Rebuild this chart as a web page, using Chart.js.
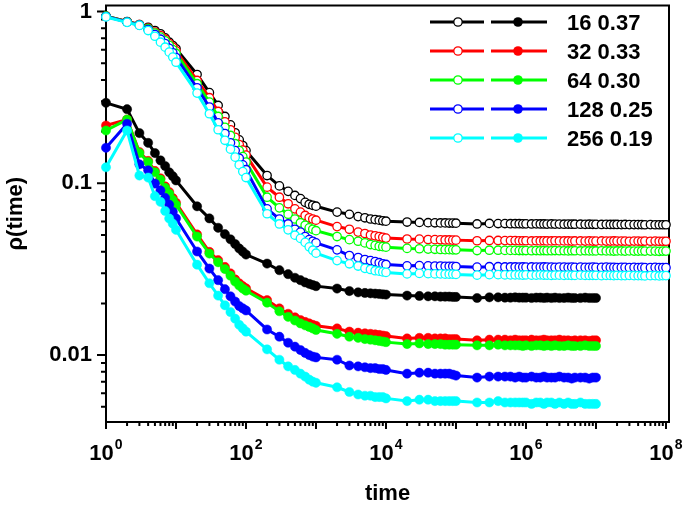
<!DOCTYPE html>
<html>
<head>
<meta charset="utf-8">
<script src="https://cdn.jsdelivr.net/npm/chart.js@4"></script>
<style>
  html, body { margin: 0; padding: 0; background: #fff; }
  canvas { display: block; }
</style>
</head>
<body>
<canvas id="rhoChart" width="685" height="505"></canvas>
<script>
// rho(time) decay for several lattice sizes, log-log

const FONT = '"Liberation Sans", Arial, sans-serif';

const sizes = ['16', '32', '64', '128', '256'];
const exponents = ['0.37', '0.33', '0.30', '0.25', '0.19'];
const colors = ['#000000', '#ff0000', '#00ff00', '#0000ff', '#00ffff'];

const xTickExps = [0, 2, 4, 6, 8];
const yTickVals = [1, 0.1, 0.01];
const yTickLabels = ['1', '0.1', '0.01'];

// sampling times (open series run to 1e8, filled ones stop at 1e7)
const times = [
    1, 2, 3, 4, 5, 6, 7, 8, 9,
    10, 20, 30, 40, 50, 60, 70, 80, 90,
    100, 200, 300, 400, 500, 600, 700, 800, 900,
    1e3, 2e3, 3e3, 4e3, 5e3, 6e3, 7e3, 8e3, 9e3,
    1e4, 2e4, 3e4, 4e4, 5e4, 6e4, 7e4, 8e4, 9e4,
    1e5, 2e5, 3e5, 4e5, 5e5, 6e5, 7e5, 8e5, 9e5,
    1e6, 1.2e6, 1.4e6, 1.6e6, 1.8e6, 2e6, 2.3e6, 2.6e6, 3e6, 3.5e6, 4e6, 4.5e6, 5e6, 6e6, 7e6, 8e6, 9e6,
    1e7, 1.2e7, 1.4e7, 1.6e7, 1.8e7, 2e7, 2.3e7, 2.6e7, 3e7, 3.5e7, 4e7, 4.5e7, 5e7, 6e7, 7e7, 8e7, 9e7,
    1e8
];
const filledCount = 72; // up to t = 1e7

// open circles (upper curves)
const open16 = [
    0.94, 0.875, 0.84, 0.81, 0.775, 0.742, 0.703, 0.663, 0.634,
    0.607, 0.43, 0.337, 0.284, 0.245, 0.219, 0.197, 0.179, 0.166,
    0.155, 0.111, 0.0966, 0.0898, 0.085, 0.0815, 0.0775, 0.0755, 0.0745,
    0.0736, 0.068, 0.066, 0.064, 0.063, 0.062, 0.0615, 0.061, 0.0605,
    0.0602, 0.0595, 0.0592, 0.059, 0.0589, 0.0588, 0.0588, 0.0587, 0.0587,
    0.0586, 0.058, 0.0584, 0.0583, 0.0583, 0.0582, 0.0582, 0.0582, 0.0581,
    0.0581, 0.058, 0.0581, 0.058, 0.058, 0.0579, 0.058, 0.0579, 0.0579, 0.0578, 0.0579, 0.0578, 0.0578, 0.0578, 0.0577, 0.0578, 0.0577,
    0.0577, 0.0576, 0.0577, 0.0576, 0.0576, 0.0576, 0.0575, 0.0576, 0.0575, 0.0575, 0.0575, 0.0575, 0.0574, 0.0575, 0.0574, 0.0574, 0.0574,
    0.0574
];
const open32 = [
    0.94, 0.872, 0.838, 0.80, 0.76, 0.725, 0.69, 0.65, 0.62,
    0.59, 0.397, 0.315, 0.262, 0.228, 0.205, 0.185, 0.168, 0.156,
    0.146, 0.095, 0.083, 0.076, 0.071, 0.068, 0.065, 0.063, 0.062,
    0.061, 0.056, 0.054, 0.052, 0.051, 0.050, 0.0495, 0.049, 0.0485,
    0.048, 0.0474, 0.0473, 0.0471, 0.047, 0.0469, 0.0468, 0.0468, 0.0467,
    0.0467, 0.0463, 0.0465, 0.0465, 0.0464, 0.0464, 0.0464, 0.0463, 0.0463,
    0.0463, 0.0462, 0.0463, 0.0462, 0.0463, 0.0462, 0.0462, 0.0463, 0.0462, 0.0462, 0.0462, 0.0461, 0.0462, 0.0462, 0.0461, 0.0462, 0.0461,
    0.0461, 0.0462, 0.0461, 0.0461, 0.0462, 0.0461, 0.0461, 0.0461, 0.046, 0.0461, 0.0461, 0.046, 0.0461, 0.046, 0.0461, 0.046, 0.046,
    0.046
];
const open64 = [
    0.94, 0.87, 0.836, 0.795, 0.75, 0.71, 0.675, 0.635, 0.60,
    0.57, 0.38, 0.297, 0.245, 0.212, 0.19, 0.17, 0.155, 0.143,
    0.133, 0.083, 0.072, 0.066, 0.062, 0.059, 0.057, 0.055, 0.054,
    0.053, 0.049, 0.047, 0.046, 0.045, 0.044, 0.0435, 0.043, 0.0428,
    0.0425, 0.0418, 0.0416, 0.0414, 0.0413, 0.0412, 0.0411, 0.0411, 0.041,
    0.041, 0.0406, 0.0408, 0.0408, 0.0407, 0.0407, 0.0407, 0.0406, 0.0406,
    0.0406, 0.0405, 0.0406, 0.0405, 0.0406, 0.0405, 0.0405, 0.0406, 0.0405, 0.0405, 0.0404, 0.0405, 0.0405, 0.0404, 0.0405, 0.0404, 0.0404,
    0.0404, 0.0405, 0.0404, 0.0404, 0.0403, 0.0404, 0.0404, 0.0403, 0.0404, 0.0403, 0.0403, 0.0404, 0.0403, 0.0403, 0.0403, 0.0402, 0.0403,
    0.0403
];
const open128 = [
    0.935, 0.868, 0.834, 0.785, 0.735, 0.69, 0.65, 0.61, 0.575,
    0.54, 0.36, 0.278, 0.225, 0.195, 0.172, 0.155, 0.14, 0.128,
    0.12, 0.071, 0.062, 0.058, 0.054, 0.052, 0.049, 0.047, 0.046,
    0.045, 0.041, 0.038, 0.037, 0.036, 0.0355, 0.035, 0.0345, 0.034,
    0.0337, 0.0331, 0.0332, 0.0331, 0.033, 0.033, 0.0329, 0.0329, 0.0329,
    0.0328, 0.0325, 0.0327, 0.0327, 0.0326, 0.0326, 0.0326, 0.0325, 0.0326,
    0.0325, 0.0326, 0.0325, 0.0325, 0.0326, 0.0325, 0.0325, 0.0324, 0.0325, 0.0325, 0.0324, 0.0325, 0.0324, 0.0325, 0.0324, 0.0324, 0.0325,
    0.0324, 0.0324, 0.0325, 0.0324, 0.0324, 0.0323, 0.0324, 0.0324, 0.0323, 0.0324, 0.0323, 0.0324, 0.0323, 0.0323, 0.0324, 0.0323, 0.0323,
    0.0323
];
const open256 = [
    0.93, 0.865, 0.83, 0.775, 0.718, 0.663, 0.62, 0.58, 0.543,
    0.507, 0.335, 0.254, 0.205, 0.178, 0.158, 0.142, 0.128, 0.117,
    0.108, 0.0665, 0.058, 0.0536, 0.0499, 0.0478, 0.0453, 0.0427, 0.0408,
    0.0392, 0.0355, 0.034, 0.033, 0.032, 0.0315, 0.031, 0.0308, 0.0305,
    0.0303, 0.0297, 0.0299, 0.0298, 0.0297, 0.0297, 0.0296, 0.0296, 0.0296,
    0.0295, 0.0292, 0.0294, 0.0294, 0.0293, 0.0293, 0.0293, 0.0293, 0.0292,
    0.0293, 0.0292, 0.0292, 0.0293, 0.0292, 0.0292, 0.0291, 0.0292, 0.0292, 0.0291, 0.0292, 0.0291, 0.0291, 0.0292, 0.0291, 0.0291, 0.0291,
    0.0291, 0.029, 0.0291, 0.0291, 0.029, 0.0291, 0.029, 0.029, 0.0291, 0.029, 0.029, 0.029, 0.0289, 0.029, 0.029, 0.0289, 0.029,
    0.029
];

// filled circles (lower curves)
const filled16 = [
    0.294, 0.27, 0.196, 0.172, 0.150, 0.136, 0.126, 0.116, 0.110,
    0.104, 0.0735, 0.0625, 0.0551, 0.0506, 0.0472, 0.0443, 0.0418, 0.040,
    0.0385, 0.0341, 0.0312, 0.0296, 0.0282, 0.0273, 0.0265, 0.026, 0.0256,
    0.0252, 0.0244, 0.0236, 0.0232, 0.023, 0.0229, 0.0228, 0.0227, 0.0226,
    0.0225, 0.0222, 0.0221, 0.022, 0.022, 0.0219, 0.0219, 0.0219, 0.0218,
    0.0218, 0.0215, 0.0217, 0.0217, 0.0216, 0.0216, 0.0217, 0.0216, 0.0216,
    0.0216, 0.0215, 0.0216, 0.0216, 0.0215, 0.0216, 0.0215, 0.0216, 0.0215, 0.0215, 0.0216, 0.0215, 0.0215, 0.0215, 0.0216, 0.0215, 0.0215,
    0.0215
];
const filled32 = [
    0.217, 0.235, 0.152, 0.135, 0.118, 0.107, 0.096, 0.089, 0.082,
    0.077, 0.0504, 0.0399, 0.0357, 0.0326, 0.0299, 0.0276, 0.0262, 0.0252,
    0.0245, 0.0209, 0.0187, 0.0174, 0.0166, 0.016, 0.0156, 0.0153, 0.015,
    0.0148, 0.0143, 0.0137, 0.0135, 0.0134, 0.0133, 0.0132, 0.0131, 0.013,
    0.0129, 0.0125, 0.0126, 0.0126, 0.0125, 0.0125, 0.0125, 0.0124, 0.0124,
    0.0124, 0.0122, 0.0123, 0.0123, 0.0123, 0.0122, 0.0123, 0.0122, 0.0122,
    0.0122, 0.0123, 0.0122, 0.0122, 0.0123, 0.0122, 0.0122, 0.0122, 0.0123, 0.0122, 0.0122, 0.0121, 0.0122, 0.0122, 0.0122, 0.0121, 0.0122,
    0.0122
];
const filled64 = [
    0.203, 0.235, 0.150, 0.133, 0.116, 0.105, 0.094, 0.087, 0.080,
    0.075, 0.049, 0.039, 0.0347, 0.0317, 0.029, 0.0268, 0.0254, 0.0244,
    0.0237, 0.0202, 0.018, 0.0167, 0.0159, 0.0153, 0.0149, 0.0146, 0.0143,
    0.014, 0.0133, 0.0128, 0.0126, 0.0124, 0.0123, 0.0122, 0.0121, 0.012,
    0.0119, 0.0116, 0.0117, 0.0116, 0.0116, 0.0116, 0.0115, 0.0115, 0.0115,
    0.0115, 0.0114, 0.0114, 0.0115, 0.0114, 0.0114, 0.0114, 0.0114, 0.0113,
    0.0114, 0.0113, 0.0114, 0.0114, 0.0113, 0.0114, 0.0113, 0.0114, 0.0113, 0.0113, 0.0114, 0.0113, 0.0113, 0.0113, 0.0114, 0.0113, 0.0113,
    0.0113
];
const filled128 = [
    0.161, 0.222, 0.129, 0.119, 0.0996, 0.0909, 0.0822, 0.0751, 0.0682,
    0.0625, 0.0401, 0.0319, 0.0273, 0.0242, 0.022, 0.0205, 0.0193, 0.0187,
    0.0182, 0.0141, 0.0128, 0.0118, 0.0112, 0.0107, 0.0103, 0.01, 0.0098,
    0.0097, 0.0094, 0.0087, 0.0086, 0.0085, 0.0084, 0.0084, 0.0083, 0.0083,
    0.0082, 0.0078, 0.0079, 0.0079, 0.0078, 0.0078, 0.0078, 0.0078, 0.0077,
    0.0076, 0.0074, 0.0075, 0.0075, 0.0075, 0.0075, 0.0074, 0.0075, 0.0074,
    0.0074, 0.0075, 0.0074, 0.0074, 0.0075, 0.0074, 0.0074, 0.0074, 0.0075, 0.0074, 0.0074, 0.0073, 0.0074, 0.0074, 0.0074, 0.0073, 0.0074,
    0.0074
];
const filled256 = [
    0.124, 0.203, 0.111, 0.108, 0.0842, 0.078, 0.069, 0.0625, 0.0582,
    0.0536, 0.0336, 0.0262, 0.0222, 0.0195, 0.0178, 0.0163, 0.015, 0.0143,
    0.0137, 0.0108, 0.0094, 0.0086, 0.0082, 0.0078, 0.0075, 0.0072, 0.007,
    0.0069, 0.0065, 0.0061, 0.0059, 0.0058, 0.0058, 0.0057, 0.0057, 0.0057,
    0.0056, 0.0054, 0.0055, 0.0055, 0.0054, 0.0054, 0.0054, 0.0054, 0.0054,
    0.0054, 0.0053, 0.0053, 0.0054, 0.0053, 0.0053, 0.0053, 0.0053, 0.0053,
    0.0053, 0.0052, 0.0053, 0.0053, 0.0052, 0.0053, 0.0053, 0.0052, 0.0053, 0.0052, 0.0053, 0.0052, 0.0052, 0.0053, 0.0052, 0.0052, 0.0052,
    0.0052
];

const openSeries = [open16, open32, open64, open128, open256];
const filledSeries = [filled16, filled32, filled64, filled128, filled256];

function toPoints(vals) {
    return vals.map((v, k) => ({ x: times[k], y: v }));
}

// frame, tick marks and the 10^n labels
const axisPlugin = {
    id: 'axisFrame',
    beforeDatasetsDraw(chart) {
        const { ctx, chartArea: a, scales: { x, y } } = chart;
        ctx.save();
        ctx.strokeStyle = '#000';
        ctx.lineWidth = 2;
        ctx.strokeRect(a.left, a.top, a.right - a.left, a.bottom - a.top);

        ctx.beginPath();
        for (let e = 0; e <= 8; e++) {
            for (let m = 1; m <= 9; m++) {
                const v = m * Math.pow(10, e);
                if (v > x.max) continue;
                const px = x.getPixelForValue(v);
                ctx.moveTo(px, a.bottom);
                ctx.lineTo(px, a.bottom + (m === 1 ? 7 : 4));
            }
        }
        for (let e = -3; e <= 0; e++) {
            for (let m = 1; m <= 9; m++) {
                const v = m * Math.pow(10, e);
                if (v < y.min || v > y.max) continue;
                const py = y.getPixelForValue(v);
                ctx.moveTo(a.left, py);
                ctx.lineTo(a.left - (m === 1 ? 9 : 5), py);
            }
        }
        ctx.stroke();

        ctx.fillStyle = '#000';
        ctx.textAlign = 'left';
        ctx.textBaseline = 'alphabetic';
        xTickExps.forEach(e => {
            const px = x.getPixelForValue(Math.pow(10, e));
            ctx.font = 'bold 22px ' + FONT;
            const w1 = ctx.measureText('10').width;
            ctx.font = 'bold 14px ' + FONT;
            const w2 = ctx.measureText(String(e)).width;
            const x0 = px - (w1 + w2 + 1) / 2;
            ctx.font = 'bold 22px ' + FONT;
            ctx.fillText('10', x0, a.bottom + 38);
            ctx.font = 'bold 14px ' + FONT;
            ctx.fillText(String(e), x0 + w1 + 1, a.bottom + 27);
        });
        ctx.restore();
    }
};

// legend: open and filled sample for each size
const legendPlugin = {
    id: 'pairLegend',
    afterDatasetsDraw(chart) {
        const ctx = chart.ctx;
        ctx.save();
        sizes.forEach((s, i) => {
            const yy = 22 + i * 29;
            ctx.strokeStyle = colors[i];
            ctx.lineWidth = 3;
            ctx.beginPath();
            ctx.moveTo(430, yy); ctx.lineTo(484, yy);
            ctx.moveTo(491, yy); ctx.lineTo(547, yy);
            ctx.stroke();

            ctx.beginPath();
            ctx.arc(458, yy, 4.2, 0, Math.PI * 2);
            ctx.fillStyle = '#fff';
            ctx.fill();
            ctx.lineWidth = 1.3;
            ctx.stroke();

            ctx.beginPath();
            ctx.arc(518, yy, 4.8, 0, Math.PI * 2);
            ctx.fillStyle = colors[i];
            ctx.fill();

            ctx.fillStyle = '#000';
            ctx.font = 'bold 22px ' + FONT;
            ctx.textAlign = 'left';
            ctx.textBaseline = 'alphabetic';
            ctx.fillText(s + ' ' + exponents[i], 567, yy + 8);
        });
        ctx.restore();
    }
};

const datasets = [];
colors.forEach((c, i) => {
    datasets.push({
        label: sizes[i] + ' open',
        data: toPoints(openSeries[i]),
        borderColor: c,
        backgroundColor: '#fff',
        pointBackgroundColor: '#fff',
        pointBorderColor: c,
        pointBorderWidth: 1.3,
        pointRadius: 4.2,
        borderWidth: 3,
        order: 20 - i,
        clip: false
    });
    datasets.push({
        label: sizes[i] + ' filled',
        data: toPoints(filledSeries[i].slice(0, filledCount)),
        borderColor: c,
        backgroundColor: c,
        pointBackgroundColor: c,
        pointBorderColor: c,
        pointBorderWidth: 0.5,
        pointRadius: 4.6,
        borderWidth: 3,
        order: 10 - i,
        clip: false
    });
});

Chart.defaults.font.family = FONT;
Chart.defaults.color = '#000';

new Chart(document.getElementById('rhoChart'), {
    type: 'line',
    data: { datasets: datasets },
    plugins: [axisPlugin, legendPlugin],
    options: {
        responsive: false,
        animation: false,
        events: [],
        layout: { padding: { top: 5, right: 16, left: 0, bottom: 0 } },
        plugins: {
            legend: { display: false },
            tooltip: { enabled: false }
        },
        scales: {
            x: {
                type: 'logarithmic',
                min: 1,
                max: 1.104e8,
                grid: { display: false, drawTicks: false, tickLength: 0 },
                border: { display: false },
                ticks: { display: false },
                title: {
                    display: true,
                    text: 'time',
                    font: { size: 22, weight: 'bold', lineHeight: 1 },
                    padding: { top: 0, bottom: 0 }
                },
                afterFit(s) {
                    s.height = 83;
                    s.paddingLeft = 0;
                    s.paddingRight = 0;
                }
            },
            y: {
                type: 'logarithmic',
                min: 0.00408,
                max: 1.084,
                grid: { display: false, drawTicks: false, tickLength: 0 },
                border: { display: false },
                afterBuildTicks(s) {
                    s.ticks = yTickVals.map(v => ({ value: v }));
                },
                ticks: {
                    padding: 14,
                    font: { size: 22, weight: 'bold' },
                    callback: (v) => {
                        const k = yTickVals.indexOf(v);
                        return k >= 0 ? yTickLabels[k] : '';
                    }
                },
                title: {
                    display: true,
                    text: 'ρ(time)',
                    font: { size: 22, weight: 'bold', lineHeight: 1 },
                    padding: { top: 5, bottom: 0 }
                },
                afterFit(s) {
                    s.width = 106;
                    s.paddingTop = 0;
                    s.paddingBottom = 0;
                }
            }
        }
    }
});
</script>
</body>
</html>
